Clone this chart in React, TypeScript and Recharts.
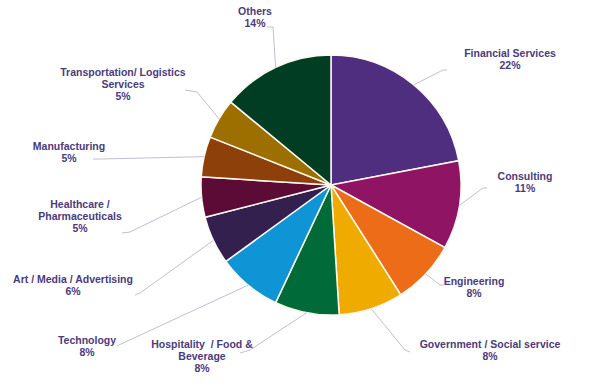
import { PieChart, Pie, Cell } from 'recharts';

const categories = [
  'Financial Services',
  'Consulting',
  'Engineering',
  'Government / Social service',
  'Hospitality / Food & Beverage',
  'Technology',
  'Art / Media / Advertising',
  'Healthcare / Pharmaceuticals',
  'Manufacturing',
  'Transportation/ Logistics Services',
  'Others',
];

const shares = [22, 11, 8, 8, 8, 8, 6, 5, 5, 5, 14];

const labelLines = [
  ['Financial Services'],
  ['Consulting'],
  ['Engineering'],
  ['Government / Social service'],
  ['Hospitality  / Food &', 'Beverage'],
  ['Technology'],
  ['Art / Media / Advertising'],
  ['Healthcare /', 'Pharmaceuticals'],
  ['Manufacturing'],
  ['Transportation/ Logistics', 'Services'],
  ['Others'],
];

const colors = [
  '#4f2d7f',
  '#8f1464',
  '#ec6c17',
  '#efab00',
  '#006b38',
  '#0f94d6',
  '#34204f',
  '#5b0b35',
  '#8e400b',
  '#9d6f00',
  '#013d23',
];

// where each label sits: text centre, leader elbow and leader end
const labelLayout = [
  { tx: 510, ty: 54, elbow: [443, 70], end: [447, 70] },
  { tx: 525, ty: 177, elbow: [483, 188], end: [487, 188] },
  { tx: 474, ty: 282, elbow: [440, 285], end: [444, 285] },
  { tx: 490, ty: 345, elbow: [405, 350], end: [410, 352] },
  { tx: 202, ty: 345, elbow: [250, 350], end: [240, 353] },
  { tx: 87, ty: 341, elbow: [121, 344], end: [117, 346] },
  { tx: 73, ty: 280, elbow: [140, 293], end: [135, 295] },
  { tx: 80, ty: 205, elbow: [130, 232], end: [122, 233] },
  { tx: 69, ty: 147, elbow: [100, 159], end: [93, 159] },
  { tx: 123, ty: 73, elbow: [197, 92], end: [185, 90] },
  { tx: 255, ty: 12, elbow: [273, 27], end: [267, 27] },
];

const data = categories.map((name, i) => ({ name, value: shares[i] }));

const RAD = Math.PI / 180;
const textColor = '#4b3b7c';

function renderLabel(props: any) {
  const { cx, cy, midAngle, outerRadius, index, value } = props;
  const layout = labelLayout[index];
  const ex = cx + outerRadius * Math.cos(-midAngle * RAD);
  const ey = cy + outerRadius * Math.sin(-midAngle * RAD);
  const lines = [...labelLines[index], `${value}%`];
  return (
    <g key={`lbl-${index}`}>
      <polyline
        points={`${ex},${ey} ${layout.elbow[0]},${layout.elbow[1]} ${layout.end[0]},${layout.end[1]}`}
        fill="none"
        stroke="#c3bdd6"
        strokeWidth={1}
      />
      <text
        x={layout.tx}
        y={layout.ty}
        textAnchor="middle"
        fill={textColor}
        fontFamily="'Liberation Sans', Arial, sans-serif"
        fontWeight="bold"
        fontSize={10.5}
      >
        {lines.map((l, j) => (
          <tspan key={j} x={layout.tx} y={layout.ty + j * 12.2} dominantBaseline="middle" style={{ whiteSpace: 'pre' }}>
            {l}
          </tspan>
        ))}
      </text>
    </g>
  );
}

export default function App() {
  return (
    <div style={{ position: 'absolute', left: 0, top: 0, width: 600, height: 389, background: '#fff' }}>
      <PieChart width={600} height={389} margin={{ top: 0, right: 0, bottom: 0, left: 0 }}>
        <Pie
          data={data}
          dataKey="value"
          nameKey="name"
          cx={331}
          cy={185}
          outerRadius={130}
          startAngle={90}
          endAngle={-270}
          stroke="#fbf8ee"
          strokeWidth={1.5}
          label={renderLabel}
          labelLine={false}
          isAnimationActive={false}
        >
          {data.map((d, i) => (
            <Cell key={d.name} fill={colors[i]} />
          ))}
        </Pie>
      </PieChart>
    </div>
  );
}
